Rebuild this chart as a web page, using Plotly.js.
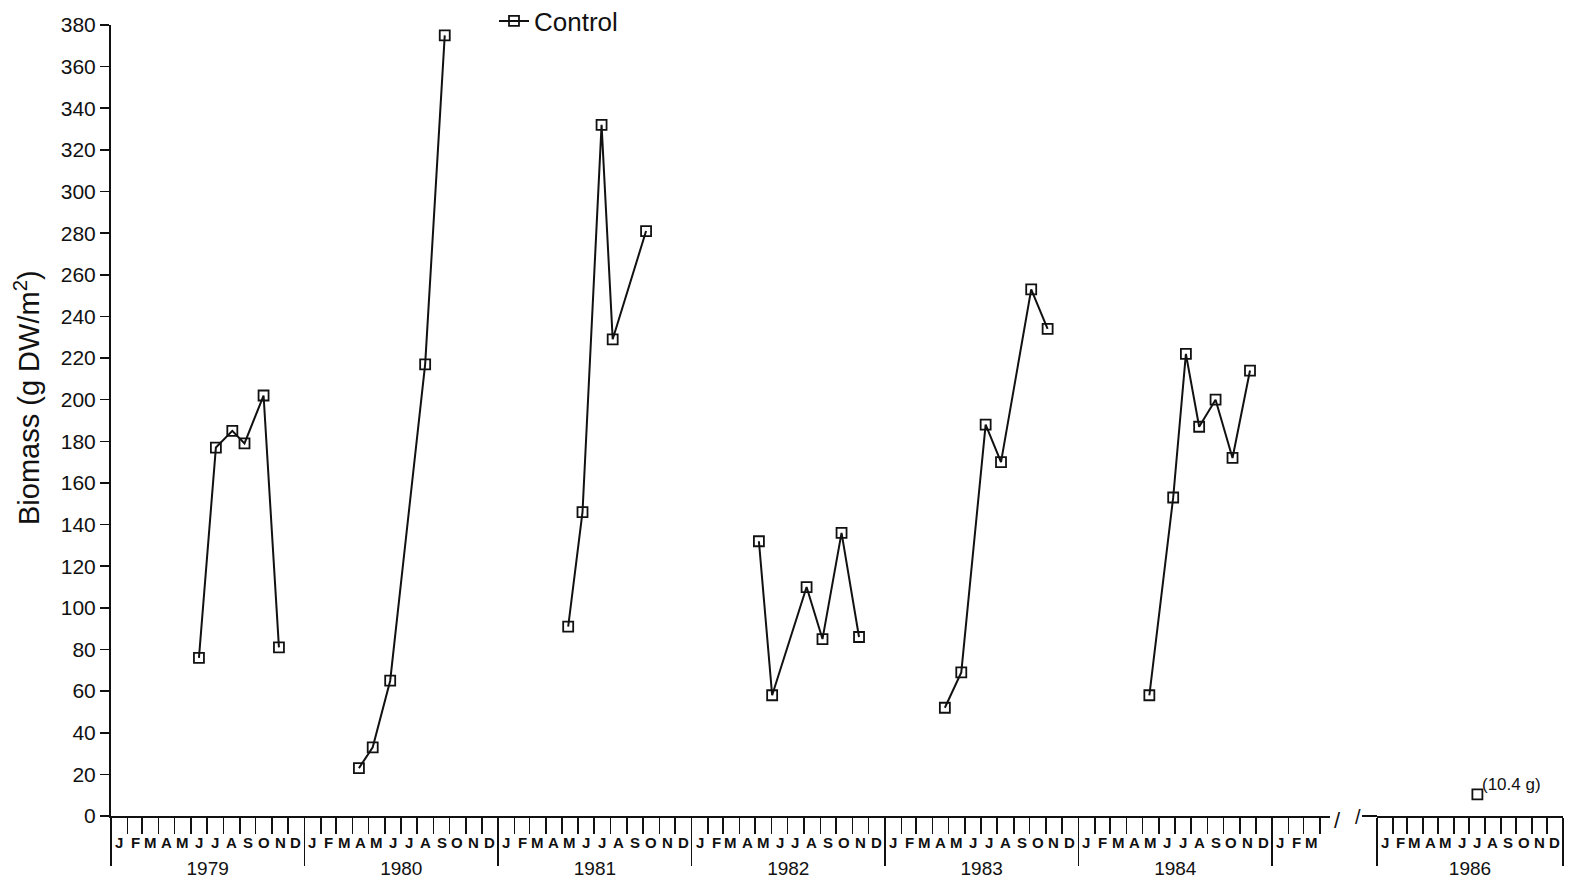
<!DOCTYPE html>
<html>
<head>
<meta charset="utf-8">
<script src="https://cdn.plot.ly/plotly-3.0.1.min.js"></script>
<style>html,body{margin:0;padding:0;background:#fff}#chart{width:1572px;height:884px}</style>
</head>
<body>
<div id="chart"></div>
<script>
// ---- data ----
const dates1979 = ['1979-06-16','1979-07-18','1979-08-18','1979-09-10','1979-10-16','1979-11-14'];
const vals1979  = [76, 177, 185, 179, 202, 81];
const dates1980 = ['1980-04-13','1980-05-09','1980-06-11','1980-08-16','1980-09-22'];
const vals1980  = [23, 33, 65, 217, 375];
const dates1981 = ['1981-05-13','1981-06-09','1981-07-15','1981-08-05','1981-10-07'];
const vals1981  = [91, 146, 332, 229, 281];
const dates1982 = ['1982-05-08','1982-06-02','1982-08-06','1982-09-05','1982-10-11','1982-11-13'];
const vals1982  = [132, 58, 110, 85, 136, 86];
const dates1983 = ['1983-04-24','1983-05-25','1983-07-10','1983-08-08','1983-10-04','1983-11-04'];
const vals1983  = [52, 69, 188, 170, 253, 234];
const dates1984 = ['1984-05-14','1984-06-28','1984-07-22','1984-08-16','1984-09-16','1984-10-18','1984-11-20'];
const vals1984  = [58, 153, 222, 187, 200, 172, 214];
const dates1986 = ['1986-07-17'];
const vals1986  = [10.4];
const label1986 = '(10.4 g)';

const monthLetters = ['J','F','M','A','M','J','J','A','S','O','N','D'];
const fullYears = [1979, 1980, 1981, 1982, 1983, 1984];
const partialYear = 1985;
const partialLetters = ['J','F','M'];
const breakYear = 1986;
const yTicks = [0,20,40,60,80,100,120,140,160,180,200,220,240,260,280,300,320,340,360,380];
const seriesName = 'Control';
const yTitle = 'Biomass (g DW/m<sup>2</sup>)';

// ---- build traces ----
const groups = [[dates1979, vals1979],[dates1980, vals1980],[dates1981, vals1981],
                [dates1982, vals1982],[dates1983, vals1983],[dates1984, vals1984]];
let xs = [], ys = [];
groups.forEach((g, i) => {
  if (i > 0) { xs.push(null); ys.push(null); }
  xs = xs.concat(g[0]); ys = ys.concat(g[1]);
});

const pad = n => (n < 10 ? '0' : '') + n;
function midMonths(year, n) {
  const v = [];
  for (let m = 1; m <= n; m++) v.push(year + '-' + pad(m) + '-16');
  return v;
}

const lineStyle = {color: '#111', width: 2};
const markerStyle = {symbol: 'square-open', size: 10, color: '#111', line: {width: 1.8, color: '#111'}};

const traces = [
  {x: xs, y: ys, type: 'scatter', mode: 'lines+markers', name: seriesName,
   line: lineStyle, marker: markerStyle, connectgaps: false, xaxis: 'x', yaxis: 'y', showlegend: true},
  {x: dates1986, y: vals1986, type: 'scatter', mode: 'markers', name: seriesName,
   marker: markerStyle, xaxis: 'x2', yaxis: 'y', showlegend: false}
];

const font = 'Liberation Sans, Arial, Helvetica, sans-serif';
const ink = '#111';
const L = 111, R = 9, T = 25, B = 68;
const W = 1572, H = 884;
const pw = W - L - R, ph = H - T - B;
const d1end = (1330 - L) / pw, d2start = (1377 - L) / pw;

const yearAxis = (domain, range) => ({
  domain: domain, range: range, type: 'date', anchor: 'y',
  showline: true, linecolor: ink, linewidth: 2, showgrid: false, zeroline: false,
  tickmode: 'linear', tick0: '1979-01-01', dtick: 'M12', tickformat: '%Y', ticklabelmode: 'period',
  ticks: 'outside', ticklen: 48, tickwidth: 1.6, tickcolor: ink, ticklabelstandoff: -14,
  tickfont: {family: font, size: 19, color: ink},
  minor: {dtick: 'M1', tick0: '1979-01-01', ticks: 'outside', ticklen: 16, tickwidth: 1.6, tickcolor: ink, showgrid: false},
  fixedrange: true
});

const r1 = ['1979-01-01', '1985-04-20'];
const r2 = ['1986-01-01', '1987-01-01'];

// month-letter labels placed at mid-month on each axis segment
const annotations = [];
function addLetters(xref, vals, letters) {
  vals.forEach((v, i) => annotations.push({
    x: v, y: 0, xref: xref, yref: 'paper', text: letters[i], showarrow: false,
    xanchor: 'center', yanchor: 'middle', yshift: -26,
    font: {family: font, size: 15, color: ink, weight: 'bold'}
  }));
}
fullYears.forEach(y => addLetters('x', midMonths(y, 12), monthLetters));
addLetters('x', midMonths(partialYear, partialLetters.length), partialLetters);
addLetters('x2', midMonths(breakYear, 12), monthLetters);

annotations.push(
  {x: dates1986[0], y: vals1986[0], xref: 'x2', yref: 'y', text: label1986, showarrow: false,
   xanchor: 'left', yanchor: 'bottom', xshift: 3, yshift: -2, font: {family: font, size: 17, color: ink}},
  {x: d1end + 7 / pw, y: 0, xref: 'paper', yref: 'paper', text: '/', showarrow: false,
   xanchor: 'center', yanchor: 'middle', yshift: -4, font: {family: font, size: 22, color: ink}},
  {x: d2start - 19 / pw, y: 0, xref: 'paper', yref: 'paper', text: '/', showarrow: false,
   xanchor: 'center', yanchor: 'middle', yshift: -1, font: {family: font, size: 20, color: ink}},
  {x: (27 - L) / pw, y: (816 - 398) / ph, xref: 'paper', yref: 'paper', text: yTitle, textangle: -90,
   showarrow: false, xanchor: 'center', yanchor: 'middle', font: {family: font, size: 29, color: ink}}
);

const layout = {
  width: W, height: H,
  margin: {l: L, r: R, t: T, b: B, autoexpand: false},
  paper_bgcolor: '#fff', plot_bgcolor: '#fff',
  font: {family: font, color: ink},
  showlegend: true,
  legend: {x: (494 - L) / pw, y: (816 - 21) / ph, xanchor: 'left', yanchor: 'middle',
           bgcolor: 'rgba(0,0,0,0)', font: {family: font, size: 26, color: ink}},
  xaxis: yearAxis([0, d1end], r1),
  xaxis2: yearAxis([d2start, 1], r2),
  yaxis: {
    range: [0, 380], showline: true, linecolor: ink, linewidth: 2, showgrid: false, zeroline: false,
    tickmode: 'array', tickvals: yTicks, ticks: 'outside', ticklen: 9, tickwidth: 1.6, tickcolor: ink,
    tickfont: {family: font, size: 21, color: ink},
    automargin: false, fixedrange: true
  },
  shapes: [
    {type: 'line', xref: 'paper', yref: 'paper', x0: d2start - 15 / pw, x1: d2start, y0: 0, y1: 0,
     line: {color: ink, width: 2}}
  ],
  annotations: annotations
};

Plotly.newPlot('chart', traces, layout, {displayModeBar: false, staticPlot: true});
</script>
</body>
</html>
